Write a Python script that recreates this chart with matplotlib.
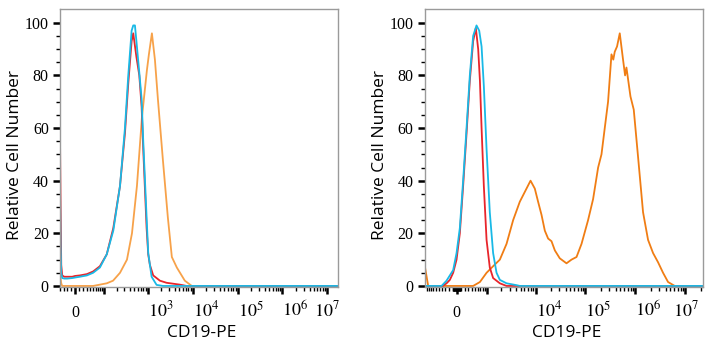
import numpy as np
import matplotlib
matplotlib.use("Agg")
import matplotlib.pyplot as plt
import matplotlib.transforms as mtransforms
from matplotlib.ticker import FixedLocator, FixedFormatter

plt.rcParams['mathtext.fontset'] = 'stix'

# ---- data (fluorescence intensity vs relative cell number) ----
# left panel
left_red_x = [-41, -39, -37, -34, -28, -20, -7, 0, 12, 31, 51, 79, 117, 167, 238, 308, 366, 435,
              473, 557, 646, 728, 791, 940, 1022, 1113, 1320, 1860, 2620, 5170, 7290, 1.7e7]
left_red_y = [58, 30, 8, 4, 3.5, 3.5, 3.5, 3.8, 4, 4.5, 5.5, 7.5, 12, 22, 38, 58, 77, 93,
              96, 87, 80, 68, 52, 22, 12, 8, 4, 2, 1.2, 0.5, 0, 0]
left_blue_x = [-41, -39, -37, -34, -28, -20, -7, 0, 12, 31, 51, 79, 117, 167, 238, 308, 366, 435,
               473, 516, 557, 646, 728, 791, 940, 1022, 1215, 1570, 2180, 1.7e7]
left_blue_y = [40, 15, 5, 3, 2.8, 2.8, 3, 3.2, 3.5, 4, 5, 7, 12, 21, 38, 60, 80, 97,
               99, 99, 93, 81, 71, 55, 26, 12.5, 3.5, 0.4, 0, 0]
left_orange_x = [-41, -37, -34, 51, 79, 117, 165, 238, 342, 443, 572, 739, 955, 1058, 1234,
                 1440, 1679, 2166, 2798, 3433, 4433, 6680, 9560, 1.7e7]
left_orange_y = [5, 1, 0, 0, 0.5, 1, 2, 5, 10, 20, 38, 64, 82, 88, 96,
                 86, 71, 48, 26, 11, 7, 2, 0, 0]

# right panel
right_red_x = [-1105, -369, -263, -175, -91, -7, 74, 157, 247, 339, 440, 529, 614, 681, 749,
               849, 982, 1160, 1370, 1900, 2610, 2.2e7]
right_red_y = [0, 0, 1, 2.3, 5, 10, 20, 38, 58, 78, 93, 98, 90, 78, 60,
               38, 17.5, 7, 3, 1, 0, 0]
right_blue_x = [-1105, -408, -263, -91, -7, 74, 157, 247, 339, 440, 553, 653, 749, 849, 982,
                1160, 1370, 1620, 1900, 2610, 4160, 4840, 2.2e7]
right_blue_y = [0, 0, 2, 6, 12.5, 22, 40, 60, 80, 95, 99, 97, 91, 76, 52,
                28, 12.5, 5, 2.3, 1, 0.3, 0, 0]
right_orange_x = [-1105, -929, 440, 681, 982, 1370, 1900, 2610, 3550, 4840, 6600, 7950, 9680,
                  11270, 13200, 15370, 17900, 20900, 24400, 30600, 41700, 52500, 66200, 83400,
                  112700, 142000, 179000, 209000, 243000, 283000, 331000, 360000, 385000,
                  428000, 485000, 564000, 620000, 660000, 794000, 924000, 1127000, 1418000,
                  1786000, 2248000, 2830000, 3562000, 4486000, 6100000, 2.2e7]
right_orange_y = [7.5, 0, 0, 1.5, 5, 7.5, 10, 16, 25, 32, 37, 40, 37,
                  32, 27, 21, 18, 17, 13.5, 10.5, 8.6, 10, 11, 16,
                  25, 33, 45, 50, 60, 70, 88, 86, 89,
                  91, 96, 86, 80, 83, 72, 67, 49, 28,
                  17.5, 12.5, 9, 5, 1.5, 0, 0]

left_x_major = [0, 1e2, 1e3, 1e4, 1e5, 1e6, 1e7]
left_x_labels = ['', '', r'$10^{3}$', r'$10^{4}$', r'$10^{5}$', r'$10^{6}$', r'$10^{7}$']
right_x_major = [0, 1e3, 1e4, 1e5, 1e6, 1e7]
right_x_labels = ['', '', r'$10^{4}$', r'$10^{5}$', r'$10^{6}$', r'$10^{7}$']
y_major = [0, 20, 40, 60, 80, 100]


def asinh_scale(c):
    return (lambda x: np.arcsinh(np.asarray(x) / c),
            lambda y: c * np.sinh(np.asarray(y)))


def minor_positions(lo, hi, majors):
    ticks = []
    for m in range(1, 8):
        for k in range(1, 10):
            for s in (1, -1):
                v = s * k * 10 ** m
                if lo <= v <= hi and v not in majors:
                    ticks.append(v)
    return sorted(ticks)


def setup_axis(ax, c, xlim, majors, labels):
    ax.set_xscale('function', functions=asinh_scale(c))
    ax.set_xlim(*xlim)
    ax.set_ylim(-0.4, 105.2)
    ax.xaxis.set_major_locator(FixedLocator(majors))
    ax.xaxis.set_major_formatter(FixedFormatter(labels))
    ax.xaxis.set_minor_locator(FixedLocator(minor_positions(xlim[0], xlim[1], majors)))
    ax.set_yticks(y_major)
    ax.set_yticks(np.arange(0, 101, 5), minor=True)
    for sp in ax.spines.values():
        sp.set_color('#9a9a9a')
        sp.set_linewidth(1.0)
    ax.tick_params(which='major', direction='out', length=5, width=1.8, color='black')
    ax.tick_params(which='minor', direction='out', length=3, width=1.0, color='black')
    ax.tick_params(axis='y', labelsize=11.5, pad=3)
    ax.tick_params(axis='x', labelsize=13, pad=5)
    for t in ax.get_yticklabels():
        t.set_fontfamily('Liberation Serif')
    for t, lab in zip(ax.get_xticklabels(), labels):
        if lab == r'$10^{7}$':
            t.set_ha('center')
        else:
            t.set_ha('left')
    # zero label sits on the baseline of the 10^n labels
    trans = mtransforms.blended_transform_factory(ax.transData, ax.transAxes)
    ax.text(0, -0.108, '0', transform=trans, ha='center', va='baseline',
            fontfamily='Liberation Serif', fontsize=11.5)
    ax.set_ylabel('Relative Cell Number', fontfamily='Open Sans', fontsize=12.5)
    ax.yaxis.set_label_coords(-0.133, 0.475)
    ax.set_xlabel('CD19-PE', fontfamily='Open Sans', fontsize=12.5, va='top')
    ax.xaxis.set_label_coords(0.51, -0.135)


fig = plt.figure(figsize=(7.14, 3.5), dpi=100)
ax1 = fig.add_axes([0.084, 0.18, 0.389, 0.794])
ax2 = fig.add_axes([0.595, 0.18, 0.389, 0.794])

lw = 1.3
ax1.plot(left_orange_x, left_orange_y, color='#f7a24a', lw=lw)
ax1.plot(left_red_x, left_red_y, color='#e8252b', lw=lw)
ax1.plot(left_blue_x, left_blue_y, color='#19b9e6', lw=lw)
setup_axis(ax1, 48, (-41, 1.7e7), left_x_major, left_x_labels)

ax2.plot(right_orange_x, right_orange_y, color='#f07d14', lw=lw)
ax2.plot(right_red_x, right_red_y, color='#e8252b', lw=lw)
ax2.plot(right_blue_x, right_blue_y, color='#19b9e6', lw=lw)
setup_axis(ax2, 534, (-1105, 2.2e7), right_x_major, right_x_labels)

fig.savefig('out.png', dpi=100)
